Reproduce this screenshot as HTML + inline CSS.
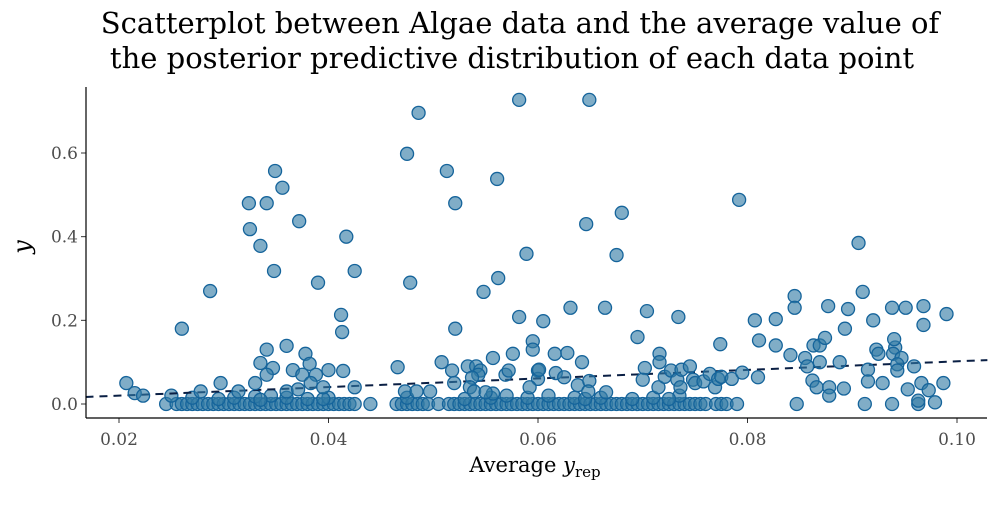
<!DOCTYPE html>
<html><head><meta charset="utf-8"><style>
body{margin:0;background:#fff}
svg text{font-family:"DejaVu Serif","Liberation Serif",serif}
</style></head><body>
<svg id="chart" width="1000" height="500" xmlns="http://www.w3.org/2000/svg">
<text x="520" y="33" font-size="29" text-anchor="middle" fill="#000">Scatterplot between Algae data and the average value of</text>
<text x="512" y="68" font-size="29" text-anchor="middle" fill="#000">the posterior predictive distribution of each data point</text>
<text x="25" y="252" font-size="24" font-style="italic" text-anchor="middle" transform="rotate(-90 25 247)">y</text>
<text x="535" y="472" font-size="21" text-anchor="middle">Average <tspan font-style="italic">y</tspan><tspan font-size="15" dy="5">rep</tspan></text>
<g id="ticks"></g>
<g id="points"></g>
<line x1="86" y1="87" x2="86" y2="418" stroke="#000" stroke-width="1.2"/>
<line x1="86" y1="418" x2="987" y2="418" stroke="#000" stroke-width="1.2"/>
</svg>
<script>
const xTicks=[0.02,0.04,0.06,0.08,0.10];
const xTickLabels=["0.02","0.04","0.06","0.08","0.10"];
const yTicks=[0,0.2,0.4,0.6];
const yTickLabels=["0.0","0.2","0.4","0.6"];
const highX=[0.0207,0.0215,0.0223,0.026,0.0287,0.0324,0.0341,0.0349,0.0356,0.0325,0.0335,0.0348,0.0372,0.039,0.0417,0.0425,0.0412,0.0413,0.0486,0.0475,0.0478,0.0513,0.0521,0.0521,0.0582,0.0561,0.0562,0.0548,0.0589,0.0582,0.0649,0.0646,0.068,0.0675,0.0792,0.0906,0.091,0.0845,0.0845,0.0877,0.0896,0.0938,0.0951,0.0968,0.099,0.0968,0.092,0.0893,0.0807,0.0827,0.0631,0.0664,0.0704,0.0734,0.0605,0.0774,0.0811,0.0827,0.0695,0.094];
const highY=[0.05,0.026,0.02,0.18,0.27,0.48,0.48,0.557,0.517,0.418,0.378,0.318,0.437,0.29,0.4,0.318,0.213,0.172,0.696,0.598,0.29,0.557,0.48,0.18,0.727,0.538,0.301,0.268,0.359,0.208,0.727,0.43,0.457,0.356,0.488,0.385,0.268,0.258,0.23,0.234,0.227,0.23,0.23,0.234,0.215,0.189,0.2,0.18,0.2,0.203,0.23,0.23,0.222,0.208,0.198,0.143,0.152,0.14,0.16,0.155];
const lowX=[0.0297,0.0278,0.033,0.0341,0.0335,0.0347,0.0341,0.036,0.0378,0.0382,0.0366,0.0375,0.0388,0.04,0.0414,0.0383,0.0395,0.0425,0.0314,0.036,0.0371,0.0466,0.0508,0.0518,0.052,0.0533,0.0541,0.0545,0.0543,0.0537,0.0535,0.0539,0.0557,0.0576,0.0569,0.0572,0.0595,0.0595,0.06,0.06,0.0592,0.0473,0.0484,0.0497,0.0557,0.055,0.0616,0.0628,0.0642,0.0617,0.0625,0.0601,0.0638,0.0649,0.0648,0.0665,0.0702,0.07,0.0716,0.0716,0.0715,0.0721,0.0727,0.0733,0.0737,0.0745,0.0736,0.0748,0.075,0.0758,0.0764,0.0769,0.0772,0.0775,0.0785,0.0795,0.081,0.0841,0.0855,0.0857,0.0863,0.0869,0.0874,0.0869,0.0862,0.0866,0.0878,0.0878,0.0892,0.0888,0.0915,0.0915,0.0929,0.0923,0.0925,0.0941,0.0939,0.0947,0.0943,0.0943,0.0959,0.0953,0.0966,0.0973,0.0987,0.0963,0.0979];
const lowY=[0.05,0.03,0.05,0.13,0.098,0.086,0.07,0.139,0.12,0.096,0.081,0.07,0.07,0.081,0.079,0.05,0.04,0.04,0.03,0.03,0.035,0.088,0.1,0.08,0.05,0.09,0.09,0.08,0.07,0.063,0.04,0.03,0.11,0.12,0.07,0.08,0.15,0.13,0.08,0.06,0.04,0.03,0.03,0.03,0.025,0.028,0.12,0.122,0.1,0.074,0.064,0.082,0.045,0.055,0.03,0.028,0.086,0.058,0.12,0.1,0.04,0.065,0.08,0.058,0.082,0.09,0.04,0.058,0.05,0.054,0.072,0.04,0.06,0.065,0.06,0.075,0.064,0.117,0.11,0.09,0.14,0.14,0.158,0.1,0.056,0.04,0.04,0.02,0.037,0.1,0.082,0.054,0.05,0.13,0.12,0.135,0.12,0.11,0.095,0.08,0.09,0.035,0.05,0.033,0.05,0.008,0.004];
const zeroX=[0.0245,0.0255,0.026,0.0265,0.027,0.0275,0.028,0.0285,0.029,0.0295,0.03,0.0305,0.031,0.0315,0.032,0.0325,0.033,0.0335,0.034,0.0345,0.035,0.0355,0.036,0.0365,0.037,0.0375,0.038,0.0385,0.039,0.0395,0.04,0.0405,0.041,0.0415,0.042,0.0425,0.044,0.0465,0.047,0.0475,0.048,0.0485,0.049,0.0495,0.0505,0.0515,0.052,0.0525,0.053,0.0535,0.054,0.0545,0.055,0.0555,0.056,0.0565,0.057,0.0575,0.058,0.0585,0.059,0.0595,0.06,0.0605,0.061,0.0615,0.062,0.0625,0.063,0.0635,0.064,0.0645,0.065,0.0655,0.066,0.0665,0.067,0.0675,0.068,0.0685,0.069,0.0695,0.07,0.0705,0.071,0.0715,0.072,0.0725,0.073,0.0735,0.074,0.0745,0.075,0.0755,0.076,0.077,0.0775,0.078,0.079,0.0847,0.0912,0.0938,0.0963];
const smallX=[0.025,0.027,0.0295,0.031,0.033,0.0345,0.036,0.038,0.04,0.0475,0.053,0.057,0.059,0.0635,0.0645,0.066,0.069,0.071,0.0735,0.0725,0.061,0.0555,0.0335,0.0395];
const smallY=[0.02,0.015,0.012,0.015,0.018,0.02,0.015,0.012,0.015,0.015,0.012,0.02,0.015,0.015,0.012,0.015,0.012,0.015,0.02,0.012,0.02,0.015,0.01,0.012];
const lineIntercept=-0.0005, lineSlope=1.025, lineX=[0.0168,0.1029];

const X0=86,X1=987,Y0=418;
function sx(v){return 119+(v-0.02)*(957-119)/0.08;}
function sy(v){return 404-v*(404-153)/0.6;}
const NS="http://www.w3.org/2000/svg";
const tg=document.getElementById('ticks'), pg=document.getElementById('points');
function mk(tag,attrs,parent){const e=document.createElementNS(NS,tag);for(const k in attrs)e.setAttribute(k,attrs[k]);parent.appendChild(e);return e;}
xTicks.forEach((t,i)=>{
  const l=mk('line',{x1:sx(t),x2:sx(t),y1:Y0,y2:Y0+5,stroke:'#333'},tg);
  
  
  const tx=mk('text',{x:sx(t),y:Y0+27,'font-size':17,'text-anchor':'middle',fill:'#4d4d4d'},tg);
  tx.textContent=xTickLabels[i];
  
  
});
yTicks.forEach((t,i)=>{
  const l=mk('line',{x1:X0-5,x2:X0,y1:sy(t),y2:sy(t),stroke:'#333'},tg);
  
  
  const tx=mk('text',{x:X0-8,y:sy(t)+6,'font-size':17,'text-anchor':'end',fill:'#4d4d4d'},tg);
  tx.textContent=yTickLabels[i];
  
  
});
function pt(x,y){
  const c=mk('circle',{cx:sx(x),cy:sy(y),r:6.5,fill:'rgba(50,122,165,0.62)',stroke:'#15649b','stroke-width':1.3},pg);
  
  
}
zeroX.forEach(x=>pt(x,0));
smallX.forEach((x,i)=>pt(x,smallY[i]));
const reg=mk('line',{x1:sx(lineX[0]),y1:sy(lineIntercept+lineSlope*lineX[0]),x2:sx(lineX[1]),y2:sy(lineIntercept+lineSlope*lineX[1]),stroke:'#0a1f44','stroke-width':2,'stroke-dasharray':'8,6'},pg);


lowX.forEach((x,i)=>pt(x,lowY[i]));
highX.forEach((x,i)=>pt(x,highY[i]));
</script>
</body></html>
